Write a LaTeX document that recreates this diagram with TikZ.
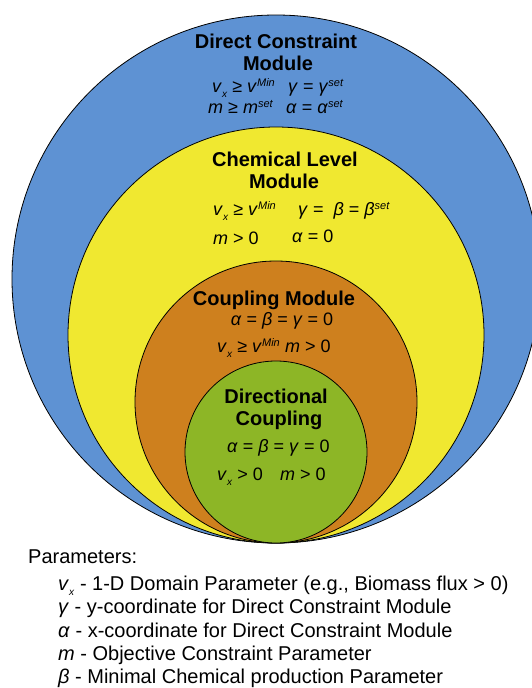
\documentclass[tikz,border=0pt]{standalone}
\usepackage{fontspec}
\setmainfont{Liberation Sans}
\usepackage{tikz}

\definecolor{dcmblue}{RGB}{94,146,211}
\definecolor{clmyellow}{RGB}{240,232,48}
\definecolor{cmorange}{RGB}{206,128,30}
\definecolor{dcgreen}{RGB}{141,182,38}

\newcommand{\sps}[1]{\raisebox{5.5pt}{\fontsize{11}{11}\selectfont\textit{#1}}}
\newcommand{\sbs}[1]{\raisebox{-5.5pt}{\fontsize{10}{10}\selectfont\textit{#1}}}
\newcommand{\vx}{\textit{v}\sbs{x}}
\newcommand{\vmin}{\textit{v}\sps{Min}}

\tikzset{
  module/.style={shape=circle,draw=black,line width=0.8pt,inner sep=0pt},
  title/.style={font=\bfseries\fontsize{20}{24}\selectfont,anchor=base},
  eqn/.style={font=\fontsize{18}{22}\selectfont,anchor=base west,inner sep=0pt},
  eqnc/.style={font=\fontsize{18}{22}\selectfont,anchor=base,inner sep=0pt},
  legend/.style={font=\fontsize{20}{24}\selectfont,anchor=base west,inner sep=1pt}
}

\begin{document}
\begin{tikzpicture}[x=1pt,y=-1pt]
                \useasboundingbox (0,0) rectangle (531,688);
                % nested modules
                \node[module,fill=dcmblue,minimum size=528pt] (DCM) at (276,279) {};
                \node[module,fill=clmyellow,minimum size=416pt] (CLM) at (276,335) {};
                \node[module,fill=cmorange,minimum size=282pt] (CM) at (276,402) {};
                \node[module,fill=dcgreen,minimum size=182pt] (DC) at (276,452) {};

                % direct constraint module
                \node[title] (A1) at (276,48) {Direct Constraint};
                \node[title] (A2) at (278,70) {Module};
                \node[eqn] (A3) at (212,92) {\vx{} ≥ \vmin};
                \node[eqn] (A4) at (288,92) {\textit{γ} = \textit{γ}\sps{set}};
                \node[eqn] (A5) at (208,113) {\textit{m} ≥ \textit{m}\sps{set}};
                \node[eqn] (A6) at (286,113) {\textit{α} = \textit{α}\sps{set}};

                % chemical level module
                \node[title] (B1) at (285,166) {Chemical Level};
                \node[title] (B2) at (284,188) {Module};
                \node[eqn] (B3) at (213,215) {\vx{} ≥ \vmin};
                \node[eqn] (B4) at (298,215) {\textit{γ} =\ \ \textit{β} = \textit{β}\sps{set}};
                \node[eqn] (B5) at (213,244) {\textit{m} > 0};
                \node[eqn] (B6) at (292,242) {\textit{α} = 0};

                % coupling module
                \node[title] (C1) at (274,305) {Coupling Module};
                \node[eqnc] (C2) at (282,325) {\textit{α} = \textit{β} = \textit{γ} = 0};
                \node[eqn] (C3) at (217,352) {\vx{} ≥ \vmin};
                \node[eqn] (C4) at (285,352) {\textit{m} > 0};

                % directional coupling
                \node[title] (D1) at (276,403) {Directional};
                \node[title] (D2) at (279,425) {Coupling};
                \node[eqn] (D3) at (227,452) {\textit{α} = \textit{β} = \textit{γ} = 0};
                \node[eqn] (D4) at (217,480) {\vx{} > 0};
                \node[eqn] (D5) at (280,480) {\textit{m} > 0};

                % parameters
                \node[legend] (P0) at (27,563) {Parameters:};
                \node[legend] (P1) at (57,590) {\vx{} - 1-D Domain Parameter (e.g., Biomass flux > 0)};
                \node[legend] (P2) at (57,613) {\textit{γ} - y-coordinate for Direct Constraint Module};
                \node[legend] (P3) at (57,637) {\textit{α} - x-coordinate for Direct Constraint Module};
                \node[legend] (P4) at (57,660) {\textit{m} - Objective Constraint Parameter};
                \node[legend] (P5) at (57,683) {\textit{β} - Minimal Chemical production Parameter};
            \end{tikzpicture}
\end{document}
